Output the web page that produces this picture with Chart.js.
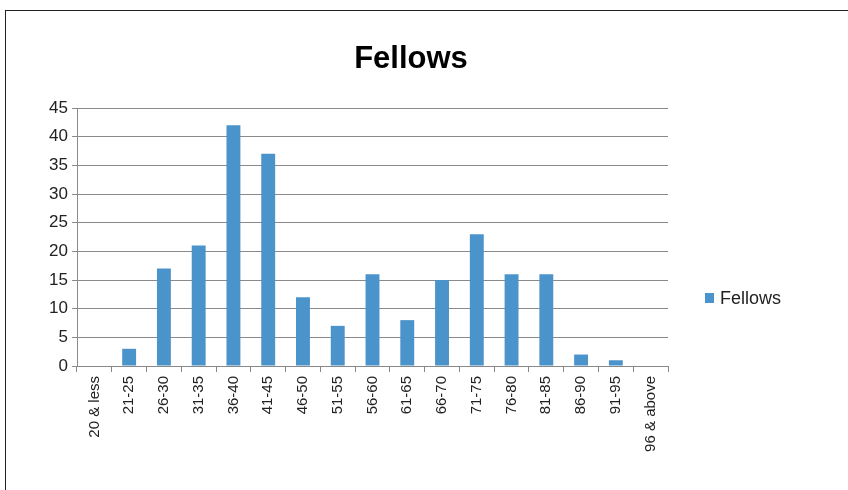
<!DOCTYPE html>
<html>
<head>
<meta charset="utf-8">
<script src="https://cdn.jsdelivr.net/npm/chart.js@4"></script>
<style>
  body { margin: 0; background: #fff; }
  canvas { display: block; }
</style>
</head>
<body>
<canvas id="chart" width="848" height="490"></canvas>
<script>
// data
var labels = [
  '20 & less', '21-25', '26-30', '31-35', '36-40', '41-45', '46-50', '51-55',
  '56-60', '61-65', '66-70', '71-75', '76-80', '81-85', '86-90', '91-95', '96 & above'
];
var values = [0, 3, 17, 21, 42, 37, 12, 7, 16, 8, 15, 23, 16, 16, 2, 1, 0];
var yTicks = [0, 5, 10, 15, 20, 25, 30, 35, 40, 45];
var chartTitle = 'Fellows';

var FONT = "'Liberation Sans', Arial, sans-serif";
var BAR = '#4B93CB';

// outer frame, title and legend (Excel-like placement)
var framePlugin = {
  id: 'frame',
  afterDraw: function (chart) {
    var ctx = chart.ctx;
    ctx.save();
    ctx.strokeStyle = '#222';
    ctx.lineWidth = 1;
    ctx.strokeRect(5.5, 10.5, 1000, 1000);

    // title
    ctx.fillStyle = '#000';
    ctx.font = 'bold 31px ' + FONT;
    ctx.textAlign = 'center';
    ctx.textBaseline = 'middle';
    ctx.fillText(chartTitle, 411, 59);

    // legend
    var ds = chart.data.datasets[0];
    var x = chart.chartArea.right + 37;
    var y = 298;
    ctx.fillStyle = ds.backgroundColor;
    ctx.fillRect(x, y - 5, 9, 10);
    ctx.fillStyle = '#222';
    ctx.font = '18px ' + FONT;
    ctx.textAlign = 'left';
    ctx.fillText(ds.label, x + 15, y + 1);
    ctx.restore();
  }
};

var ctx = document.getElementById('chart').getContext('2d');
var myChart = new Chart(ctx, {
  type: 'bar',
  data: {
    labels: labels,
    datasets: [{
      label: 'Fellows',
      data: values,
      backgroundColor: BAR,
      borderWidth: 0,
      categoryPercentage: 1,
      barPercentage: 0.4
    }]
  },
  options: {
    responsive: false,
    animation: false,
    layout: { padding: { left: 5, right: 180, top: 108, bottom: 0 } },
    plugins: {
      legend: { display: false },
      tooltip: { enabled: false },
      title: { display: false }
    },
    scales: {
      x: {
        grid: {
          offset: true,
          drawOnChartArea: false,
          tickLength: 6,
          color: '#888'
        },
        border: { color: '#888' },
        ticks: {
          minRotation: 90,
          maxRotation: 90,
          autoSkip: false,
          padding: 4,
          color: '#222',
          font: { family: FONT, size: 15 }
        },
        afterFit: function (s) { s.height = 124; }
      },
      y: {
        min: 0,
        max: 45,
        afterBuildTicks: function (s) {
          s.ticks = yTicks.map(function (v) { return { value: v }; });
        },
        grid: { color: '#8a8a8a', tickLength: 5 },
        border: { color: '#8a8a8a' },
        ticks: {
          padding: 4,
          color: '#222',
          font: { family: FONT, size: 17 }
        },
        afterFit: function (s) { s.width = 72; }
      }
    }
  },
  plugins: [framePlugin]
});
</script>
</body>
</html>
